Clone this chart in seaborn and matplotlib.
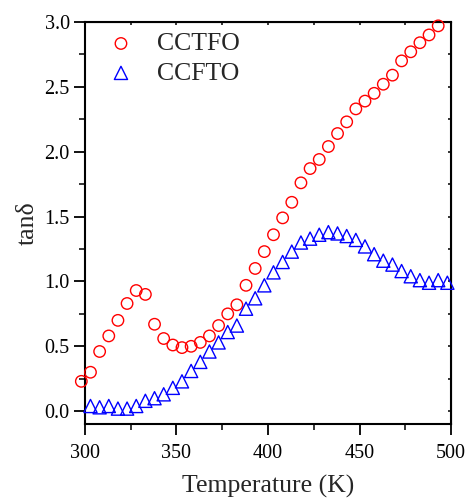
import numpy as np
import pandas as pd
import seaborn as sns
import matplotlib.pyplot as plt
from matplotlib.ticker import MultipleLocator

# CCTFO (red circles)
temp_cctfo = [298, 303, 308, 313, 318, 323, 328, 333, 338, 343,
              348, 353, 358, 363, 368, 373, 378, 383, 388, 393,
              398, 403, 408, 413, 418, 423, 428, 433, 438, 443,
              448, 453, 458, 463, 468, 473, 478, 483, 488, 493]
tan_cctfo = [0.23, 0.30, 0.46, 0.58, 0.70, 0.83, 0.93, 0.90, 0.67, 0.56,
             0.51, 0.49, 0.50, 0.53, 0.58, 0.66, 0.75, 0.82, 0.97, 1.10,
             1.23, 1.36, 1.49, 1.61, 1.76, 1.87, 1.94, 2.04, 2.14, 2.23,
             2.33, 2.39, 2.45, 2.52, 2.59, 2.70, 2.77, 2.84, 2.90, 2.97]

# CCFTO (blue triangles)
temp_ccfto = [303, 308, 313, 318, 323, 328, 333, 338, 343, 348,
              353, 358, 363, 368, 373, 378, 383, 388, 393, 398,
              403, 408, 413, 418, 423, 428, 433, 438, 443, 448,
              453, 458, 463, 468, 473, 478, 483, 488, 493, 498]
tan_ccfto = [0.04, 0.03, 0.04, 0.02, 0.02, 0.04, 0.08, 0.10, 0.13, 0.18,
             0.23, 0.31, 0.38, 0.46, 0.53, 0.61, 0.66, 0.79, 0.87, 0.97,
             1.07, 1.15, 1.23, 1.30, 1.33, 1.36, 1.38, 1.37, 1.35, 1.32,
             1.27, 1.21, 1.16, 1.13, 1.08, 1.04, 1.01, 0.99, 1.01, 0.99]

sns.set_style("ticks")
plt.rcParams['font.family'] = ['Liberation Serif', 'DejaVu Serif']

fig = plt.figure(figsize=(4.68, 4.99), dpi=100)
ax = fig.add_axes([0.1816, 0.150, 0.7821, 0.806])

sns.scatterplot(x=temp_cctfo, y=tan_cctfo, ax=ax, marker='o', s=68,
                facecolor='none', edgecolor='#ff0000', linewidth=1.0,
                label='CCTFO', clip_on=False, zorder=3)
sns.scatterplot(x=temp_ccfto, y=tan_ccfto, ax=ax, marker='^', s=90,
                facecolor='none', edgecolor='#0000ff', linewidth=1.0,
                label='CCFTO', clip_on=False, zorder=3)

ax.set_xlim(300, 500)
ax.set_ylim(-0.1, 3.0)
ax.xaxis.set_major_locator(MultipleLocator(50))
ax.xaxis.set_minor_locator(MultipleLocator(25))
ax.yaxis.set_major_locator(MultipleLocator(0.5))
ax.yaxis.set_minor_locator(MultipleLocator(0.25))
ax.yaxis.set_major_formatter(plt.FormatStrFormatter('%.1f'))

for s in ax.spines.values():
    s.set_visible(True)
    s.set_linewidth(1.5)
    s.set_color('black')

ax.tick_params(which='major', direction='out', length=8, width=1.3,
               labelsize=14.5, pad=3, colors='black')
ax.tick_params(which='minor', direction='out', length=4.5, width=1.3)
ax.tick_params(axis='x', which='major', pad=6)
ax.tick_params(which='both', top=False, right=False)

# short ticks on the top and right frame
sec_x = ax.secondary_xaxis('top')
sec_x.xaxis.set_major_locator(MultipleLocator(25))
sec_x.tick_params(direction='in', length=2.5, width=1.3)
sec_x.set_xticklabels([])
sec_y = ax.secondary_yaxis('right')
sec_y.yaxis.set_major_locator(MultipleLocator(0.25))
sec_y.tick_params(direction='in', length=2.5, width=1.3)
sec_y.set_yticklabels([])

ax.set_xlabel('Temperature (K)', fontsize=18.5, labelpad=9)
ax.set_ylabel('tanδ', fontsize=18.5, labelpad=4)

ax.legend(loc='upper left', bbox_to_anchor=(0.0, 1.0), frameon=False,
          fontsize=18.5, borderaxespad=0.2, borderpad=0.2, handlelength=2.0,
          handletextpad=0.4, labelspacing=0.25)

fig.savefig('out.png', dpi=100)
